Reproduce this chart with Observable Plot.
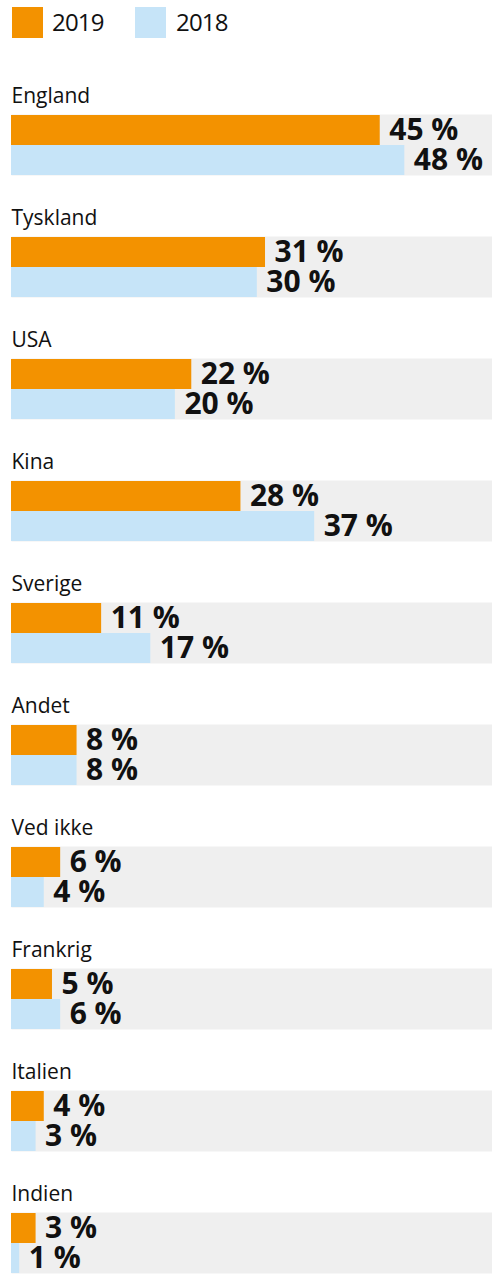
<!DOCTYPE html>
<html>
<head>
<meta charset="utf-8">
<script src="https://cdn.jsdelivr.net/npm/d3@7"></script>
<script src="https://cdn.jsdelivr.net/npm/@observablehq/plot@0.6"></script>
<style>
  body { margin: 0; background: #fff; font-family: "Open Sans", sans-serif; }
  #legend { position: relative; width: 492px; height: 50px; }
  #legend .sw { position: absolute; top: 7px; width: 31px; height: 31px; }
  #legend .lb { position: absolute; top: 5px; font-size: 24px; line-height: 34px; letter-spacing: -0.8px; color: #111; }
  #chart svg { display: block; }
</style>
</head>
<body>
<div id="legend"></div>
<div id="chart"></div>
<script>
const countries = ["England","Tyskland","USA","Kina","Sverige","Andet","Ved ikke","Frankrig","Italien","Indien"];
const values2019 = [45,31,22,28,11,8,6,5,4,3];
const values2018 = [48,30,20,37,17,8,4,6,3,1];
const years = ["2019","2018"];
const colors = ["#f39200","#c6e4f8"];

const data = countries.flatMap((c, i) => [
  {country: c, year: "2019", value: values2019[i]},
  {country: c, year: "2018", value: values2018[i]}
]);

// legend
const legend = document.getElementById("legend");
const swX = [12, 135], lbX = [52, 176];
years.forEach((y, i) => {
  const s = document.createElement("div");
  s.className = "sw"; s.style.left = swX[i] + "px"; s.style.background = colors[i];
  legend.appendChild(s);
  const t = document.createElement("div");
  t.className = "lb"; t.style.left = lbX[i] + "px"; t.textContent = y;
  legend.appendChild(t);
});

const chart = Plot.plot({
  width: 492,
  height: 1224,
  marginTop: 62,
  marginBottom: 0,
  marginLeft: 11,
  marginRight: 0,
  style: {fontFamily: "Open Sans, sans-serif", background: "#fff"},
  x: {domain: [0, 58.7], axis: null},
  y: {domain: years, axis: null, padding: 0},
  fy: {domain: countries, axis: null, paddingInner: 0.5, paddingOuter: 0},
  color: {domain: years, range: colors},
  marks: [
    Plot.frame({fill: "#efefef", stroke: "none"}),
    Plot.barX(data, {x: "value", y: "year", fy: "country", fill: "year"}),
    Plot.text(data, {
      x: "value", y: "year", fy: "country",
      text: d => `${d.value} %`,
      textAnchor: "start", dx: 9,
      fontSize: 30, fontWeight: 700, fill: "#111",
      letterSpacing: "-0.5px"
    }),
    Plot.text(countries, {
      fy: d => d, text: d => d,
      frameAnchor: "top-left", lineAnchor: "bottom", dy: -12,
      fontSize: 21, fill: "#111", letterSpacing: "1px"
    })
  ]
});
document.getElementById("chart").appendChild(chart);
</script>
</body>
</html>
